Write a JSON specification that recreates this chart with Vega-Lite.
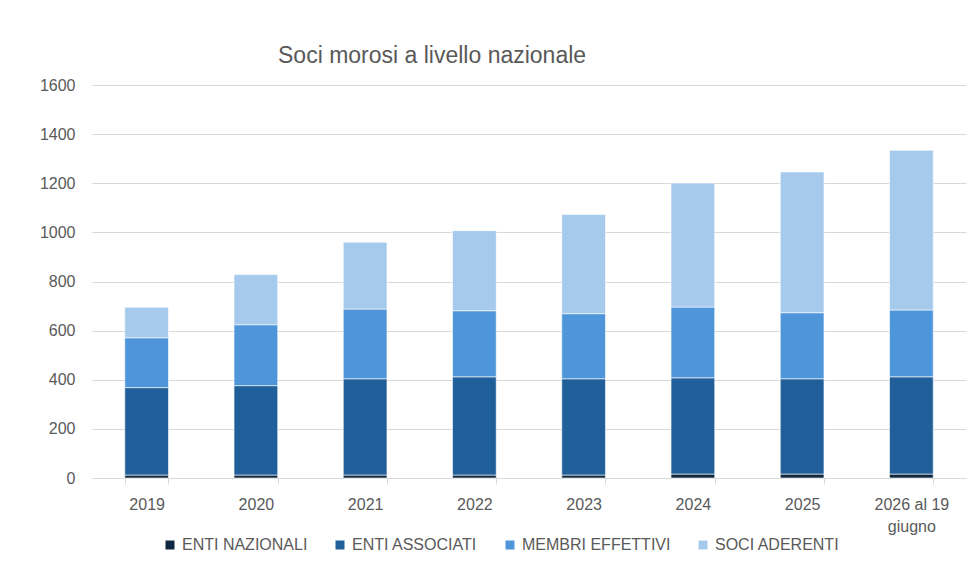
{
  "$schema": "https://vega.github.io/schema/vega-lite/v6.json",
  "width": 874,
  "height": 393,
  "autosize": "none",
  "padding": {"left": 92, "top": 85, "right": 14, "bottom": 91},
  "background": "white",
  "title": {
    "text": "Soci morosi a livello nazionale",
    "anchor": "start",
    "frame": "group",
    "dx": 186,
    "offset": -9,
    "baseline": "alphabetic",
    "fontSize": 23,
    "font": "Liberation Sans",
    "fontWeight": "normal",
    "color": "#595959"
  },
  "data": {
    "values": [
      {"anno": "2019", "categoria": "ENTI NAZIONALI", "k": 1, "valore": 12},
      {"anno": "2019", "categoria": "ENTI ASSOCIATI", "k": 2, "valore": 356},
      {"anno": "2019", "categoria": "MEMBRI EFFETTIVI", "k": 3, "valore": 203},
      {"anno": "2019", "categoria": "SOCI ADERENTI", "k": 4, "valore": 124},
      {"anno": "2020", "categoria": "ENTI NAZIONALI", "k": 1, "valore": 12},
      {"anno": "2020", "categoria": "ENTI ASSOCIATI", "k": 2, "valore": 364},
      {"anno": "2020", "categoria": "MEMBRI EFFETTIVI", "k": 3, "valore": 248},
      {"anno": "2020", "categoria": "SOCI ADERENTI", "k": 4, "valore": 204},
      {"anno": "2021", "categoria": "ENTI NAZIONALI", "k": 1, "valore": 12},
      {"anno": "2021", "categoria": "ENTI ASSOCIATI", "k": 2, "valore": 392},
      {"anno": "2021", "categoria": "MEMBRI EFFETTIVI", "k": 3, "valore": 284},
      {"anno": "2021", "categoria": "SOCI ADERENTI", "k": 4, "valore": 272},
      {"anno": "2022", "categoria": "ENTI NAZIONALI", "k": 1, "valore": 12},
      {"anno": "2022", "categoria": "ENTI ASSOCIATI", "k": 2, "valore": 400},
      {"anno": "2022", "categoria": "MEMBRI EFFETTIVI", "k": 3, "valore": 269},
      {"anno": "2022", "categoria": "SOCI ADERENTI", "k": 4, "valore": 326},
      {"anno": "2023", "categoria": "ENTI NAZIONALI", "k": 1, "valore": 12},
      {"anno": "2023", "categoria": "ENTI ASSOCIATI", "k": 2, "valore": 392},
      {"anno": "2023", "categoria": "MEMBRI EFFETTIVI", "k": 3, "valore": 265},
      {"anno": "2023", "categoria": "SOCI ADERENTI", "k": 4, "valore": 404},
      {"anno": "2024", "categoria": "ENTI NAZIONALI", "k": 1, "valore": 16},
      {"anno": "2024", "categoria": "ENTI ASSOCIATI", "k": 2, "valore": 392},
      {"anno": "2024", "categoria": "MEMBRI EFFETTIVI", "k": 3, "valore": 288},
      {"anno": "2024", "categoria": "SOCI ADERENTI", "k": 4, "valore": 505},
      {"anno": "2025", "categoria": "ENTI NAZIONALI", "k": 1, "valore": 16},
      {"anno": "2025", "categoria": "ENTI ASSOCIATI", "k": 2, "valore": 388},
      {"anno": "2025", "categoria": "MEMBRI EFFETTIVI", "k": 3, "valore": 269},
      {"anno": "2025", "categoria": "SOCI ADERENTI", "k": 4, "valore": 573},
      {"anno": "2026 al 19 giugno", "categoria": "ENTI NAZIONALI", "k": 1, "valore": 16},
      {"anno": "2026 al 19 giugno", "categoria": "ENTI ASSOCIATI", "k": 2, "valore": 396},
      {"anno": "2026 al 19 giugno", "categoria": "MEMBRI EFFETTIVI", "k": 3, "valore": 272},
      {"anno": "2026 al 19 giugno", "categoria": "SOCI ADERENTI", "k": 4, "valore": 650}
    ]
  },
  "mark": {"type": "bar", "stroke": "white", "strokeWidth": 0.6},
  "encoding": {
    "x": {
      "field": "anno",
      "type": "nominal",
      "sort": null,
      "scale": {"paddingInner": 0.6, "paddingOuter": 0.3},
      "axis": {
        "title": null,
        "labelAngle": 0,
        "tickBand": "extent",
        "tickSize": 6,
        "tickColor": "#d9d9d9",
        "domainColor": "#d9d9d9",
        "labelPadding": 12,
        "labelLineHeight": 22,
        "labelExpr": "datum.label == '2026 al 19 giugno' ? ['2026 al 19', 'giugno'] : datum.label"
      }
    },
    "y": {
      "field": "valore",
      "type": "quantitative",
      "stack": "zero",
      "scale": {"domain": [0, 1600], "nice": false},
      "axis": {
        "title": null,
        "format": "d",
        "values": [0, 200, 400, 600, 800, 1000, 1200, 1400, 1600],
        "domain": false,
        "ticks": false,
        "labelPadding": 17,
        "gridColor": "#d9d9d9",
        "gridWidth": 1.2
      }
    },
    "color": {
      "field": "categoria",
      "type": "nominal",
      "scale": {
        "domain": ["ENTI NAZIONALI", "ENTI ASSOCIATI", "MEMBRI EFFETTIVI", "SOCI ADERENTI"],
        "range": ["#0e2841", "#215f9a", "#4e95d9", "#a6caec"]
      },
      "legend": {
        "orient": "none",
        "legendX": 70,
        "legendY": 452,
        "direction": "horizontal",
        "title": null,
        "symbolType": "square",
        "symbolSize": 81,
        "symbolStrokeWidth": 0,
        "labelOffset": 4,
        "columnPadding": 24,
        "labelFontSize": 16,
        "labelColor": "#595959",
        "labelFont": "Liberation Sans"
      }
    },
    "order": {"field": "k", "type": "quantitative"}
  },
  "config": {
    "view": {"stroke": null},
    "axis": {
      "labelFont": "Liberation Sans",
      "labelFontSize": 16,
      "labelColor": "#595959"
    }
  }
}
